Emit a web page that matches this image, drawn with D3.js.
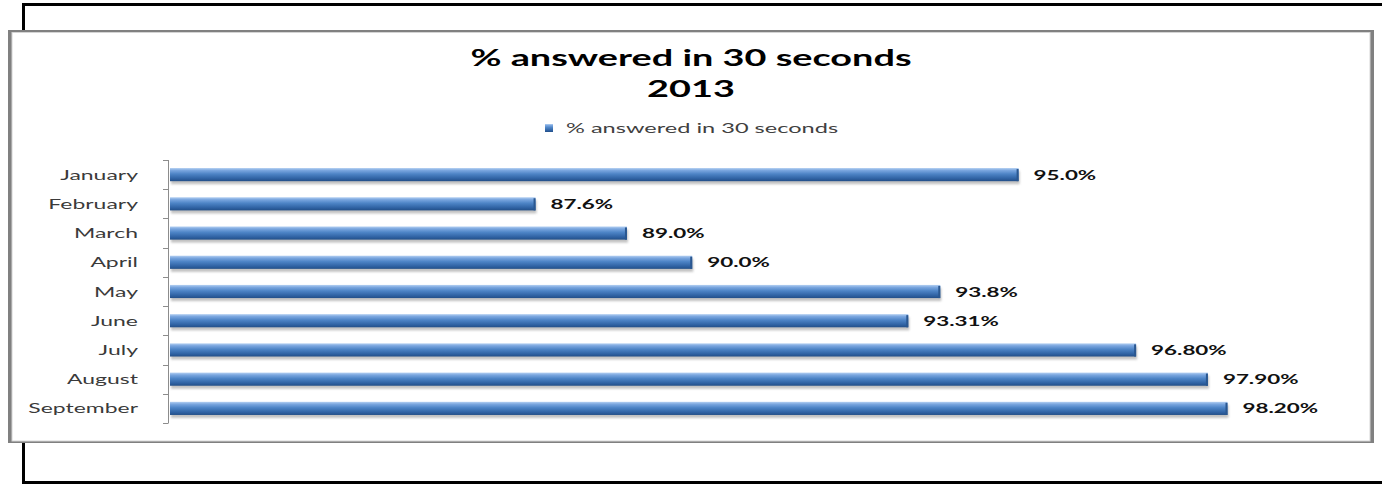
<!DOCTYPE html>
<html>
<head>
<meta charset="utf-8">
<script src="https://cdn.jsdelivr.net/npm/d3@7"></script>
<style>
  body { margin: 0; background: #fff; overflow: hidden; }
  svg { display: block; }
  text { font-family: Lato, "Open Sans", sans-serif; }
</style>
</head>
<body>
<div class="chart"></div>
<script>
// data
const months = ["January", "February", "March", "April", "May", "June", "July", "August", "September"];
const answered = [95.0, 87.6, 89.0, 90.0, 93.8, 93.31, 96.8, 97.9, 98.2];
const valueLabels = ["95.0%", "87.6%", "89.0%", "90.0%", "93.8%", "93.31%", "96.80%", "97.90%", "98.20%"];
const titleLines = ["% answered in 30 seconds", "2013"];
const seriesName = "% answered in 30 seconds";

// setup
const width = 1382;
const height = 485;
const SX = 1.6; // the picture is stretched sideways, so is the text

const svg = d3.select(".chart")
   .append("svg")
   .attr("width", width)
   .attr("height", height)
   .style("overflow", "hidden");

const defs = svg.append("defs");
const grad = defs.append("linearGradient")
   .attr("id", "barGrad")
   .attr("x1", 0).attr("y1", 0).attr("x2", 0).attr("y2", 1);
[["0%", "#b4d0f2"], ["18%", "#7aa6df"], ["45%", "#4d84c6"], ["80%", "#2f62a3"], ["100%", "#234f88"]]
   .forEach(([o, c]) => grad.append("stop").attr("offset", o).attr("stop-color", c));
defs.append("filter")
   .attr("id", "shadow")
   .attr("x", "-5%").attr("y", "-50%").attr("width", "110%").attr("height", "200%")
   .append("feGaussianBlur").attr("stdDeviation", 1.2);

// outer black frame: top, left and bottom edges only
const frame = svg.append("g").attr("fill", "#000");
frame.append("rect").attr("x", 22).attr("y", 3).attr("width", 1360).attr("height", 3);
frame.append("rect").attr("x", 22).attr("y", 3).attr("width", 3).attr("height", 481);
frame.append("rect").attr("x", 22).attr("y", 481).attr("width", 1360).attr("height", 3);

// chart box with grey border
svg.append("rect")
   .attr("x", 8).attr("y", 30)
   .attr("width", 1366).attr("height", 413)
   .attr("fill", "#808080");
svg.append("rect")
   .attr("x", 12).attr("y", 32.5)
   .attr("width", 1358).attr("height", 408.5)
   .attr("fill", "#fff")
   .attr("stroke", "#d4d4d4")
   .attr("stroke-width", 1);

// helper for stretched text
function stretched(g, x, y, str, sx = SX) {
   return g.append("text")
      .attr("transform", `translate(${x},${y}) scale(${sx},1)`)
      .text(str);
}

// title
titleLines.forEach((t, i) => {
   stretched(svg, 691, 66 + i * 31, t, 1.72)
      .attr("text-anchor", "middle")
      .attr("font-size", 22)
      .attr("font-weight", "bold")
      .attr("fill", "#000");
});

// legend
const legend = svg.append("g");
legend.append("rect")
   .attr("x", 545).attr("y", 124)
   .attr("width", 8).attr("height", 8)
   .attr("fill", "url(#barGrad)");
stretched(legend, 566, 133, seriesName, 1.66)
   .attr("font-size", 14.2)
   .attr("fill", "#404040");

// scales
const xScale = d3.scaleLinear().domain([82, 100]).range([170, 1345]);
const yScale = d3.scaleBand()
   .domain(months)
   .range([160, 423])
   .paddingInner(0.55)
   .paddingOuter(0.275);

const rows = months.map((m, i) => ({ month: m, value: answered[i], label: valueLabels[i] }));

// category axis
const axis = svg.append("g").attr("stroke", "#8c8c8c").attr("stroke-width", 1);
axis.append("line")
   .attr("x1", 168.5).attr("x2", 168.5)
   .attr("y1", yScale.range()[0]).attr("y2", yScale.range()[1]);
const bounds = months.map((m) => yScale(m) - (yScale.step() * yScale.paddingInner()) / 2);
bounds.push(yScale.range()[1]);
axis.selectAll(".tick")
   .data(bounds)
   .enter()
   .append("line")
   .attr("x1", 163).attr("x2", 168.5)
   .attr("y1", (d) => Math.round(d) + 0.5)
   .attr("y2", (d) => Math.round(d) + 0.5);

rows.forEach((d) => {
   stretched(svg, 138, yScale(d.month) + yScale.bandwidth() / 2 + 5, d.month, 1.64)
      .attr("text-anchor", "end")
      .attr("font-size", 14)
      .attr("fill", "#3a3a3a");
});

// bars
const bars = svg.append("g");
bars.selectAll(".shadow")
   .data(rows)
   .enter()
   .append("rect")
   .attr("class", "shadow")
   .attr("x", xScale(82) + 1)
   .attr("y", (d) => yScale(d.month) + 3)
   .attr("width", (d) => xScale(d.value) - xScale(82))
   .attr("height", yScale.bandwidth())
   .attr("fill", "#9a9a9a")
   .attr("opacity", 0.6)
   .attr("filter", "url(#shadow)");
bars.selectAll(".bar")
   .data(rows)
   .enter()
   .append("rect")
   .attr("class", "bar")
   .attr("x", xScale(82))
   .attr("y", (d) => yScale(d.month))
   .attr("width", (d) => xScale(d.value) - xScale(82))
   .attr("height", yScale.bandwidth())
   .attr("fill", "url(#barGrad)");
// end caps
bars.selectAll(".cap")
   .data(rows)
   .enter()
   .append("rect")
   .attr("class", "cap")
   .attr("x", (d) => xScale(d.value) - 2)
   .attr("y", (d) => yScale(d.month) + 1)
   .attr("width", 2)
   .attr("height", yScale.bandwidth() - 1)
   .attr("fill", "#2a5790");

// value labels
rows.forEach((d) => {
   stretched(svg, xScale(d.value) + 15, yScale(d.month) + yScale.bandwidth() / 2 + 5, d.label)
      .attr("font-size", 14)
      .attr("font-weight", "bold")
      .attr("fill", "#111");
});
</script>
</body>
</html>
